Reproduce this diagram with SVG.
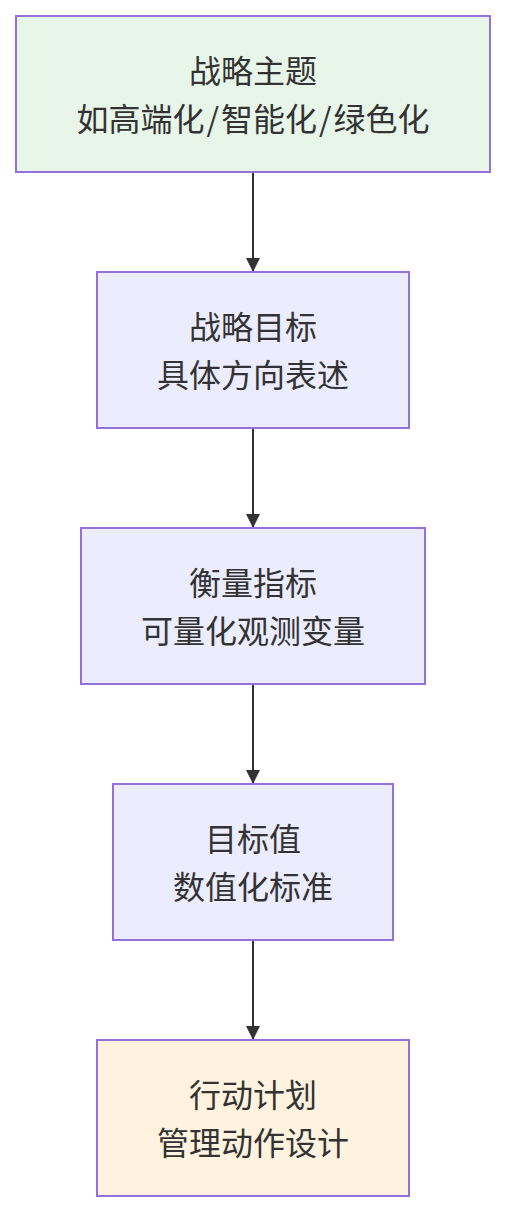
<svg xmlns="http://www.w3.org/2000/svg" width="505" height="1212" viewBox="0 0 505 1212">
<style>
.box{stroke:#9370db;stroke-width:2}
.t{font-family:"Noto Sans CJK SC","Noto Sans",sans-serif;font-size:32px;fill:#333;text-anchor:middle;dominant-baseline:central}
.edge{stroke:#333;stroke-width:2;fill:none}
</style>
<defs>
<marker id="arr" markerWidth="14" markerHeight="14" refX="14" refY="7" orient="auto" markerUnits="userSpaceOnUse" viewBox="0 0 14 14">
<path d="M0,0 L14,7 L0,14 z" fill="#333"/>
</marker>
</defs>
<rect width="505" height="1212" fill="#fff"/>
<g id="connectors">
<path class="edge" d="M253,172 V272" marker-end="url(#arr)"/>
<path class="edge" d="M253,428 V528" marker-end="url(#arr)"/>
<path class="edge" d="M253,684 V784" marker-end="url(#arr)"/>
<path class="edge" d="M253,940 V1040" marker-end="url(#arr)"/>
</g>
<g id="n1">
<rect class="box" x="16" y="16" width="474" height="156" fill="#e8f5e9"/>
<text class="t" x="253" y="69">战略主题</text>
<text class="t" x="253" y="117">如高端化<tspan dx="2">/</tspan><tspan dx="2">智能化</tspan><tspan dx="2">/</tspan><tspan dx="2">绿色化</tspan></text>
</g>
<g id="n2">
<rect class="box" x="97" y="272" width="312" height="156" fill="#ececff"/>
<text class="t" x="253" y="325">战略目标</text>
<text class="t" x="253" y="373">具体方向表述</text>
</g>
<g id="n3">
<rect class="box" x="81" y="528" width="344" height="156" fill="#ececff"/>
<text class="t" x="253" y="581">衡量指标</text>
<text class="t" x="253" y="629">可量化观测变量</text>
</g>
<g id="n4">
<rect class="box" x="113" y="784" width="280" height="156" fill="#ececff"/>
<text class="t" x="253" y="837">目标值</text>
<text class="t" x="253" y="885">数值化标准</text>
</g>
<g id="n5">
<rect class="box" x="97" y="1040" width="312" height="156" fill="#fff3e0"/>
<text class="t" x="253" y="1093">行动计划</text>
<text class="t" x="253" y="1141">管理动作设计</text>
</g>
</svg>
